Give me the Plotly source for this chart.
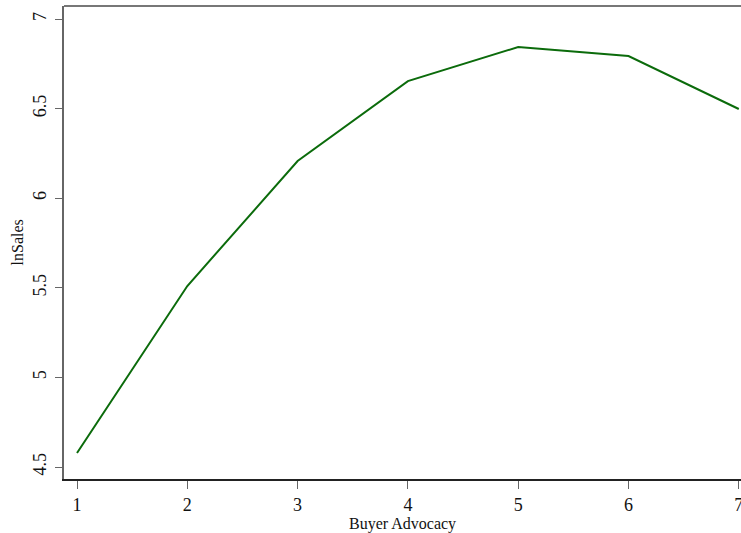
import plotly.graph_objects as go

buyer_advocacy = [1, 2, 3, 4, 5, 6, 7]
ln_sales = [4.578, 5.51, 6.208, 6.654, 6.844, 6.794, 6.498]
x_ticks = [1, 2, 3, 4, 5, 6, 7]
y_ticks = [4.5, 5, 5.5, 6, 6.5, 7]
y_tick_labels = ["4.5", "5", "5.5", "6", "6.5", "7"]
x_title = "Buyer Advocacy"
y_title = "lnSales"

fig = go.Figure()
fig.add_trace(go.Scatter(x=buyer_advocacy, y=ln_sales, mode="lines",
                         line=dict(color="#0b6b0b", width=2), showlegend=False))

tick_font = dict(family="Liberation Serif", size=18, color="#111")
title_font = dict(family="Liberation Serif", size=16, color="#111")

fig.update_layout(
    width=741, height=533,
    margin=dict(l=64, r=0, t=6, b=54),
    paper_bgcolor="white", plot_bgcolor="white",
    font=title_font,
    xaxis=dict(range=[0.882, 7.02], tickvals=x_ticks, ticktext=[str(v) for v in x_ticks],
               showgrid=False, zeroline=False, showline=True, linecolor="#222", linewidth=2,
               ticks="outside", ticklen=8, tickcolor="#666", tickwidth=1,
               ticklabeloverflow="allow", automargin=False, tickfont=tick_font),
    yaxis=dict(range=[4.433, 7.073], tickvals=y_ticks, ticktext=y_tick_labels,
               showgrid=False, zeroline=False, showline=True, linecolor="#666", linewidth=2,
               ticks="outside", ticklen=7, tickcolor="#666", tickwidth=1, tickangle=-90,
               ticklabelstandoff=2, automargin=False, tickfont=tick_font),
    annotations=[
        dict(text=x_title, xref="paper", yref="paper", x=0.5, y=-0.096,
             xanchor="center", yanchor="middle", showarrow=False, font=title_font),
        dict(text=y_title, xref="paper", yref="paper", x=-0.068, y=0.5, textangle=-90,
             xanchor="center", yanchor="middle", showarrow=False, font=title_font),
    ],
)
fig.add_shape(type="line", xref="paper", yref="paper", x0=0, x1=1, y0=1, y1=1,
              line=dict(color="#777", width=2))
fig.write_html("out.html")
